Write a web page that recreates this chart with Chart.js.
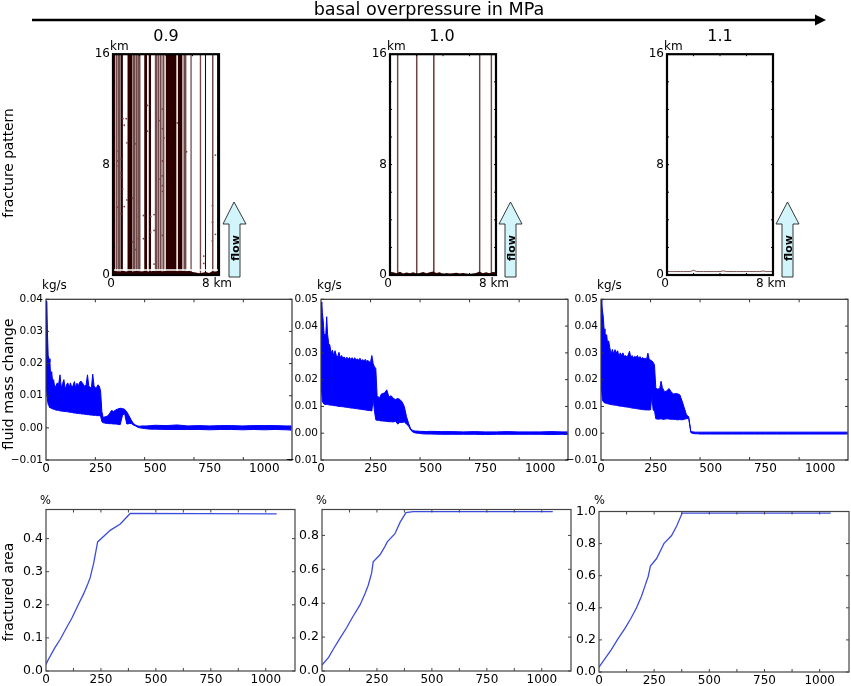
<!DOCTYPE html>
<html>
<head>
<meta charset="utf-8">
<title>basal overpressure in MPa</title>
<script src="https://cdn.jsdelivr.net/npm/chart.js@4"></script>
<style>
  html, body { margin: 0; padding: 0; background: #fff; }
  #page { position: relative; width: 851px; height: 686px; overflow: hidden; filter: blur(0.45px); }
  #page canvas { position: absolute; }
  #page svg { position: absolute; left: 0; top: 0; }
  svg text { font-family: "DejaVu Sans"; fill: #000; }
</style>
</head>
<body>
<div id="page">
<svg width="851" height="686" style="z-index:5">
  <line x1="32" y1="20" x2="817" y2="20" stroke="#000" stroke-width="2.6"/>
  <polygon points="815,14.5 826,20 815,25.5" fill="#000"/>
  <text x="429" y="15" text-anchor="middle" font-size="17.6">basal overpressure in MPa</text>
  <text x="166" y="41" text-anchor="middle" font-size="16">0.9</text>
  <text x="442" y="41" text-anchor="middle" font-size="16">1.0</text>
  <text x="720" y="41" text-anchor="middle" font-size="16">1.1</text>

  <text transform="translate(12.5,163) rotate(-90)" text-anchor="middle" font-size="13.75">fracture pattern</text>
  <text transform="translate(12.5,384) rotate(-90)" text-anchor="middle" font-size="14.4">fluid mass change</text>
  <text transform="translate(12.5,592) rotate(-90)" text-anchor="middle" font-size="13.8">fractured area</text>

  <text x="110" y="50" font-size="12">km</text>
  <text x="387" y="50" font-size="12">km</text>
  <text x="664" y="50" font-size="12">km</text>
  <text x="42" y="289" font-size="12">kg/s</text>
  <text x="317" y="289" font-size="12">kg/s</text>
  <text x="597" y="289" font-size="12">kg/s</text>
  <text x="40" y="504" font-size="11.5">%</text>
  <text x="316" y="504" font-size="11.5">%</text>
  <text x="594" y="504" font-size="11.5">%</text>

  <polygon points="234,202 246,224 240,224 240,277 229,277 229,224 223,224" fill="#d2f5fb" stroke="#222" stroke-width="0.9"/>
  <text transform="translate(239,248) rotate(-90)" text-anchor="middle" font-size="11" font-weight="bold">flow</text>
  <polygon points="510.5,202 522,224 516,224 516,277 505,277 505,224 499,224" fill="#d2f5fb" stroke="#222" stroke-width="0.9"/>
  <text transform="translate(515,248) rotate(-90)" text-anchor="middle" font-size="11" font-weight="bold">flow</text>
  <polygon points="787.5,202 799,224 793,224 793,277 782,277 782,224 776,224" fill="#d2f5fb" stroke="#222" stroke-width="0.9"/>
  <text transform="translate(792,248) rotate(-90)" text-anchor="middle" font-size="11" font-weight="bold">flow</text>
</svg>
</div>
<script>
// fracture pattern, stripes as [from, to] in km
var dark09 = [[0, 0.15], [0.55, 0.75], [1.08, 1.48], [2.35, 2.58], [2.68, 2.88], [3.98, 4.8], [4.88, 5.25], [6.93, 7.03], [7.85, 8]];
var pale09 = [[0.2, 0.35], [0.37, 0.53], [1.48, 1.67], [1.69, 1.87], [1.89, 2.08], [3.17, 3.32], [3.35, 3.5], [3.53, 3.67], [3.73, 3.87], [5.32, 5.53], [5.83, 5.95], [6.53, 6.67], [7.46, 7.6]];
var haze09 = [[0.15, 0.55], [1.48, 2.1], [3.12, 3.98], [5.25, 5.58]];
var pale10 = [[0.51, 0.65], [1.95, 2.09], [3.24, 3.38], [6.7, 6.84], [7.58, 7.72]];
var dotX09 = [0.3, 0.35, 0.4, 0.6, 0.6, 0.6, 0.73, 0.75, 1, 0.85, 1.05, 1.68, 1.05, 1.48, 1.93, 0.35, 0.6, 0.85, 1.93, 1.48, 1.68, 1.93, 2.3, 2.3, 2.85, 3.1, 2.85, 3.1, 2.6, 2.6, 3.48, 3.73, 3.73, 3.85, 3.73, 3.55, 3.73, 3.73, 3.73, 3.73, 3.1, 4.85, 5.55, 7.73, 7.5, 7.5, 7.5, 7.73, 6.85, 6.85];
var dotY09 = [8.98, 8.26, 7.9, 8.43, 7.38, 7.07, 6.23, 11.33, 11.33, 10.85, 9.58, 9.51, 5.44, 5.56, 5.32, 4.91, 4.43, 4.96, 4.24, 2.4, 1.84, 2.63, 2.63, 4.31, 4.24, 4.38, 3.11, 3.23, 12.29, 10.42, 11.19, 12.02, 10.61, 9.94, 8.26, 6.95, 7.19, 6.47, 6.06, 2.87, 0.79, 11.02, 8.93, 8.69, 5.03, 3.83, 2.47, 2.95, 1.37, 0.84];
var floorX = [0, 0.25, 0.5, 0.75, 1, 1.25, 1.5, 1.75, 2, 2.25, 2.5, 2.75, 3, 3.25, 3.5, 3.75, 4, 4.25, 4.5, 4.75, 5, 5.25, 5.5, 5.75, 6, 6.25, 6.5, 6.75, 7, 7.25, 7.5, 7.75, 8];
var floor09 = [0.3, 0.28, 0.22, 0.3, 0.25, 0.3, 0.22, 0.3, 0.25, 0.28, 0.3, 0.22, 0.3, 0.28, 0.3, 0.25, 0.3, 0.3, 0.3, 0.3, 0.25, 0.3, 0.28, 0.3, 0.22, 0.18, 0.12, 0.16, 0.22, 0.15, 0.28, 0.26, 0.3];
var floor10 = [0.22, 0.2, 0.12, 0.24, 0.1, 0.18, 0.12, 0.2, 0.1, 0.14, 0.22, 0.12, 0.2, 0.26, 0.14, 0.2, 0.08, 0.14, 0.1, 0.12, 0.16, 0.1, 0.14, 0.1, 0.08, 0.1, 0.14, 0.26, 0.12, 0.2, 0.12, 0.22, 0.2];
var floor11 = [0.25, 0.25, 0.25, 0.25, 0.25, 0.25, 0.25, 0.25, 0.34, 0.25, 0.25, 0.25, 0.25, 0.25, 0.25, 0.25, 0.25, 0.3, 0.25, 0.25, 0.25, 0.25, 0.25, 0.25, 0.25, 0.25, 0.25, 0.25, 0.25, 0.29, 0.25, 0.25, 0.25];

// fluid mass change, upper and lower edge of the oscillating trace, in g/s
var massX = [0, 3, 6, 10, 14, 18, 22, 26, 30, 35,
  40, 46, 52, 58, 64, 70, 76, 82, 88, 94,
  100, 106, 112, 118, 124, 130, 136, 142, 148, 154,
  160, 166, 172, 178, 184, 190, 196, 202, 208, 214,
  220, 226, 232, 238, 244, 250, 256, 262, 268, 274,
  280, 290, 300, 310, 320, 330, 340, 350, 360, 370,
  380, 390, 400, 410, 420, 430, 440, 450, 460, 480,
  500, 550, 600, 650, 700, 750, 800, 850, 900, 950,
  1000, 1050, 1100, 1125];
var massTop09 = [39.5, 39, 31, 22.5, 21.5, 20.5, 15, 17.5, 14.5, 15,
  12.5, 13.2, 14, 13.5, 16.5, 12.4, 13.8, 15, 11.9, 13.4,
  14, 12.5, 14, 12.6, 13.2, 14.4, 12.4, 13.9, 12.9, 14.2,
  14.5, 14.1, 13.4, 12.9, 13.5, 16.5, 13, 12.6, 12.3, 16.7,
  13.1, 12.4, 12.6, 13.4, 13, 11.5, 5, 3.2, 3.4, 3.5,
  3.6, 4.3, 5.4, 5.1, 5.6, 5.9, 6.1, 6, 5.8, 5,
  3.8, 2.5, 1.4, 0.9, 0.6, 0.5, 0.6, 0.6, 0.6, 0.7,
  0.8, 0.7, 0.9, 0.6, 0.7, 0.6, 0.7, 0.7, 0.6, 0.7,
  0.7, 0.7, 0.6, 0.6];
var massLow09 = [39, 11.4, 9, 7.3, 6.8, 6.3, 6.2, 6, 5.9, 5.8,
  5.7, 5.5, 5.5, 5.4, 5.3, 5.2, 5.2, 5.1, 5.1, 5,
  5, 4.9, 4.8, 4.8, 4.7, 4.6, 4.6, 4.5, 4.5, 4.4,
  4.4, 4.3, 4.3, 4.2, 4.2, 4.1, 4.1, 4, 4, 3.9,
  3.9, 3.9, 3.8, 3.8, 3.8, 3.7, 1.9, 1.6, 1.5, 1.4,
  1.4, 1.3, 1.3, 1.2, 1.2, 1.1, 1, 3.8, 4.5, 1.2,
  1.3, 1.4, 0.9, 0.6, 0.2, 0, -0.1, -0.2, -0.3, -0.4,
  -0.4, -0.5, -0.5, -0.5, -0.5, -0.6, -0.5, -0.5, -0.6, -0.5,
  -0.6, -0.5, -0.6, -0.7];
var massTop10 = [49, 48.5, 45, 42, 37, 36.5, 37, 43.5, 37, 33.5,
  33, 30, 31, 29, 30.8, 29, 28.5, 30.2, 28.2, 29,
  28, 28.5, 27.6, 28.4, 27.6, 28.3, 27.5, 28.2, 27.4, 28.2,
  27.3, 27.8, 27.2, 28, 27, 27.5, 27, 27.6, 26.8, 27.2,
  26.6, 26.5, 29, 26, 24.8, 24.2, 14, 13.5, 13.2, 14.5,
  14.8, 15, 16.2, 13.5, 14, 13, 12.6, 13, 12.6, 11.7,
  10, 6.2, 3.6, 1.5, 1, 0.8, 0.8, 0.7, 0.7, 0.6,
  0.7, 0.6, 0.6, 0.5, 0.6, 0.5, 0.5, 0.6, 0.5, 0.5,
  0.5, 0.6, 0.5, 0.5];
var massLow10 = [49, 15.6, 12, 11.3, 10.9, 10.8, 10.7, 10.7, 10.7, 10.6,
  10.5, 10.5, 10.4, 10.3, 10.3, 10.2, 10.1, 10, 10, 9.9,
  9.9, 9.8, 9.7, 9.7, 9.6, 9.5, 9.4, 9.4, 9.3, 9.2,
  9.2, 9.1, 9, 9, 8.9, 8.8, 8.8, 8.7, 8.6, 8.5,
  8.5, 8.4, 8.3, 13, 8.2, 5, 4.8, 4.8, 4.7, 4.6,
  4.6, 4.5, 4.4, 4.3, 4.3, 4.2, 4.5, 3.4, 4.1, 4,
  4.2, 3.4, 2.6, 1.1, 0.4, 0.1, 0, -0.1, -0.2, -0.3,
  -0.3, -0.4, -0.4, -0.4, -0.4, -0.5, -0.4, -0.4, -0.4, -0.4,
  -0.4, -0.5, -0.4, -0.5];
var massTop11 = [50, 49, 46, 43.7, 39, 36.5, 36.8, 36.7, 33.5, 34.5,
  32, 29.5, 31.3, 29.5, 31.2, 30, 30.8, 28.6, 30, 29,
  30, 28.7, 29, 28.5, 29.2, 30.6, 28.4, 29, 28.2, 28.7,
  28.3, 29, 28, 28.6, 27.8, 28.3, 27.7, 28, 27.6, 29.9,
  27.5, 27.3, 27, 26.5, 25.5, 17, 16.4, 16.6, 16.6, 19.4,
  17, 15.5, 15.8, 16.7, 15.5, 14.6, 14.8, 14.7, 14.3, 12,
  9.5, 6.8, 6.2, 0.6, 0.5, 0.4, 0.4, 0.4, 0.4, 0.4,
  0.4, 0.4, 0.4, 0.4, 0.4, 0.4, 0.4, 0.4, 0.4, 0.4,
  0.4, 0.4, 0.4, 0.4];
var massLow11 = [50, 16, 12.5, 11.8, 11.5, 11.3, 11.2, 11.1, 11, 10.9,
  10.8, 10.7, 10.6, 10.5, 10.5, 10.4, 10.3, 10.2, 10.1, 10.1,
  10, 9.9, 9.8, 9.8, 9.7, 9.6, 9.5, 9.4, 9.3, 9.3,
  9.2, 9.1, 9, 9, 8.9, 8.8, 8.8, 8.7, 8.7, 8.7,
  8.7, 8.7, 14, 8.6, 8.5, 5.4, 5.3, 5.2, 5.3, 5.4,
  5.2, 5.2, 5.4, 5.3, 5.2, 5.2, 5.1, 5, 5.1, 5,
  5.2, 5.4, 5.6, 0.2, -0.1, -0.2, -0.2, -0.3, -0.3, -0.3,
  -0.3, -0.3, -0.3, -0.3, -0.3, -0.3, -0.3, -0.3, -0.3, -0.3,
  -0.3, -0.3, -0.3, -0.3];

// fractured area, x in same units as above, y in %
var areaX09 = [0, 10, 40, 65, 95, 118, 150, 171, 190, 201, 217, 235, 292, 338, 383, 1050];
var areaY09 = [0.02, 0.034, 0.07, 0.096, 0.133, 0.16, 0.205, 0.233, 0.263, 0.282, 0.326, 0.39, 0.425, 0.444, 0.476, 0.475];
var areaX10 = [0, 30, 52, 80, 112, 140, 173, 195, 210, 220, 226, 233, 264, 286, 297, 332, 355, 382, 415, 1050];
var areaY10 = [0.035, 0.08, 0.13, 0.19, 0.255, 0.32, 0.39, 0.455, 0.505, 0.55, 0.58, 0.644, 0.686, 0.734, 0.762, 0.81, 0.877, 0.935, 0.94, 0.94];
var areaX11 = [0, 28, 56, 85, 117, 145, 170, 192, 208, 223, 233, 261, 283, 294, 329, 352, 377, 1050];
var areaY11 = [0.03, 0.085, 0.14, 0.205, 0.27, 0.335, 0.4, 0.47, 0.535, 0.595, 0.66, 0.707, 0.768, 0.8, 0.85, 0.91, 0.99, 0.99];

var kmLabels = [0, 8];
var kmTicks = [0, 8, 16];
var timeLabels = [0, 250, 500, 750, 1000];
var massTickMarks = [226, 452, 678, 904];
var areaTickMarks = [125, 250, 375, 500, 625, 750, 875, 1000];

Chart.defaults.font.family = "'DejaVu Sans'";
Chart.defaults.color = "#000";

// box round the plot with small ticks pointing inwards
Chart.register({
  id: "frame",
  afterDatasetsDraw: function (chart, args, opts) {
    var a = chart.chartArea, ctx = chart.ctx;
    ctx.save();
    ctx.strokeStyle = opts.color;
    ctx.lineWidth = 1;
    (opts.xMarks || []).forEach(function (v) {
      var x = chart.scales.x.getPixelForValue(v);
      ctx.beginPath();
      ctx.moveTo(x, a.top); ctx.lineTo(x, a.top + opts.len);
      ctx.moveTo(x, a.bottom); ctx.lineTo(x, a.bottom - opts.len);
      ctx.stroke();
    });
    (opts.yMarks || []).forEach(function (v) {
      var y = chart.scales.y.getPixelForValue(v);
      ctx.beginPath();
      ctx.moveTo(a.left, y); ctx.lineTo(a.left + opts.len, y);
      ctx.moveTo(a.right, y); ctx.lineTo(a.right - opts.len, y);
      ctx.stroke();
    });
    ctx.lineWidth = opts.width;
    ctx.strokeRect(a.left, a.top, a.right - a.left, a.bottom - a.top);
    ctx.restore();
  }
});

function toPoints(xs, ys) {
  return xs.map(function (x, i) { return { x: x, y: ys[i] }; });
}

function stripes(list, color) {
  return list.map(function (s) {
    return { data: [{ x: s[0], y: 16 }, { x: s[1], y: 16 }], fill: { value: 0 }, backgroundColor: color, borderWidth: 0, pointRadius: 0 };
  });
}

function makePanel(box, margin, datasets, xAxis, yAxis, frame) {
  var canvas = document.createElement("canvas");
  canvas.width = box.r - box.l + margin.l + margin.r;
  canvas.height = box.b - box.t + margin.t + margin.b;
  canvas.style.left = (box.l - margin.l) + "px";
  canvas.style.top = (box.t - margin.t) + "px";
  document.getElementById("page").appendChild(canvas);
  return new Chart(canvas, {
    type: "line",
    data: { datasets: datasets },
    options: {
      responsive: false,
      animation: false,
      layout: { padding: { top: margin.t, right: margin.r } },
      elements: { line: { tension: 0 } },
      plugins: { legend: { display: false }, tooltip: { enabled: false }, frame: frame },
      scales: {
        x: {
          type: "linear", min: xAxis.min, max: xAxis.max,
          grid: { display: false, drawTicks: false }, border: { display: false },
          ticks: { padding: 2, maxRotation: 0, autoSkip: false, font: { size: 12 }, callback: xAxis.label, labelOffset: xAxis.offset || 0 },
          afterBuildTicks: function (s) { s.ticks = xAxis.ticks.map(function (v) { return { value: v }; }); },
          afterFit: function (s) { s.height = margin.b; }
        },
        y: {
          type: "linear", min: yAxis.min, max: yAxis.max,
          grid: { display: false, drawTicks: false }, border: { display: false },
          ticks: { padding: 3, autoSkip: false, font: { size: yAxis.size }, callback: yAxis.label },
          afterBuildTicks: function (s) { s.ticks = yAxis.ticks.map(function (v) { return { value: v }; }); },
          afterFit: function (s) { s.width = margin.l; }
        }
      }
    }
  });
}

function patternPanel(box, datasets) {
  var xAxis = { min: 0, max: 8, ticks: kmLabels, offset: -2, label: function (v) { return v === 8 ? "8 km" : String(v); } };
  var yAxis = { min: 0, max: 16, ticks: kmTicks, size: 12, label: function (v) { return String(v); } };
  makePanel(box, { l: 30, r: 24, t: 8, b: 24 }, datasets, xAxis, yAxis,
    { color: "#000", width: 2.2, len: 2, xMarks: [2, 4, 6], yMarks: [2, 4, 6, 8, 10, 12, 14] });
}

function massPanel(box, top, low, yMax, yTicks) {
  var datasets = [
    { data: toPoints(massX, top.map(function (v) { return v / 1000; })), borderColor: "#0000ff", borderWidth: 1, backgroundColor: "#0000ff", fill: "+1", pointRadius: 0 },
    { data: toPoints(massX, low.map(function (v) { return v / 1000; })), borderColor: "#0000ff", borderWidth: 1, fill: false, pointRadius: 0 }
  ];
  var xAxis = { min: 0, max: 1127, ticks: timeLabels, label: function (v) { return String(v); } };
  var yAxis = { min: -0.01, max: yMax, ticks: yTicks, size: 10.5, label: function (v) {
    return (v < 0 ? "\u2212" : "") + Math.abs(v).toFixed(2);
  } };
  makePanel(box, { l: 36, r: 3, t: 6, b: 24 }, datasets, xAxis, yAxis,
    { color: "#333", width: 1.2, len: 3, xMarks: massTickMarks, yMarks: yTicks });
}

function areaPanel(box, xs, ys, yMax, yTicks) {
  var datasets = [{ data: toPoints(xs, ys), borderColor: "#3c4cdc", borderWidth: 1.3, fill: false, pointRadius: 0 }];
  var xAxis = { min: 0, max: 1133, ticks: timeLabels, label: function (v) { return String(v); } };
  var yAxis = { min: 0, max: yMax, ticks: yTicks, size: 12.5, label: function (v) { return v.toFixed(1); } };
  makePanel(box, { l: 36, r: 2, t: 6, b: 14 }, datasets, xAxis, yAxis,
    { color: "#444", width: 1.2, len: 3, xMarks: areaTickMarks, yMarks: yTicks });
}

// first dataset ends up on top in Chart.js, so dots and lines come before the stripes
var dots09 = { data: toPoints(dotX09, dotY09), showLine: false, pointRadius: 0.9, pointBackgroundColor: "#7a4545", pointBorderWidth: 0 };
var whiteLine = { data: [{ x: 0, y: 0.36 }, { x: 8, y: 0.36 }], borderColor: "#ffffff", borderWidth: 1.4, fill: false, pointRadius: 0 };
var floorDark09 = { data: toPoints(floorX, floor09), borderWidth: 0, backgroundColor: "#2d0000", fill: { value: 0 }, pointRadius: 0 };
var floorDark10 = { data: toPoints(floorX, floor10), borderWidth: 0, backgroundColor: "#2d0000", fill: { value: 0 }, pointRadius: 0 };
var floorLine11 = { data: toPoints(floorX, floor11), borderColor: "#6b3b3b", borderWidth: 0.9, fill: false, pointRadius: 0 };

patternPanel({ l: 113, r: 219, t: 52, b: 275 }, [dots09, whiteLine, floorDark09].concat(stripes(dark09, "#2d0000"), stripes(pale09, "#6f4a4a"), stripes(haze09, "#cdbaba")));
patternPanel({ l: 390, r: 496, t: 52, b: 275 }, [floorDark10].concat(stripes(pale10, "#6e4444")));
patternPanel({ l: 667, r: 773, t: 52, b: 275 }, [floorLine11]);

massPanel({ l: 46, r: 292, t: 296, b: 460 }, massTop09, massLow09, 0.04, [-0.01, 0, 0.01, 0.02, 0.03, 0.04]);
massPanel({ l: 321, r: 568, t: 296, b: 460 }, massTop10, massLow10, 0.05, [-0.01, 0, 0.01, 0.02, 0.03, 0.04, 0.05]);
massPanel({ l: 601, r: 848, t: 296, b: 460 }, massTop11, massLow11, 0.05, [-0.01, 0, 0.01, 0.02, 0.03, 0.04, 0.05]);

areaPanel({ l: 46, r: 295, t: 505, b: 671 }, areaX09, areaY09, 0.488, [0, 0.1, 0.2, 0.3, 0.4]);
areaPanel({ l: 322, r: 571, t: 505, b: 671 }, areaX10, areaY10, 0.953, [0, 0.2, 0.4, 0.6, 0.8]);
areaPanel({ l: 599, r: 849, t: 507, b: 672 }, areaX11, areaY11, 1, [0, 0.2, 0.4, 0.6, 0.8, 1]);
</script>
</body>
</html>
